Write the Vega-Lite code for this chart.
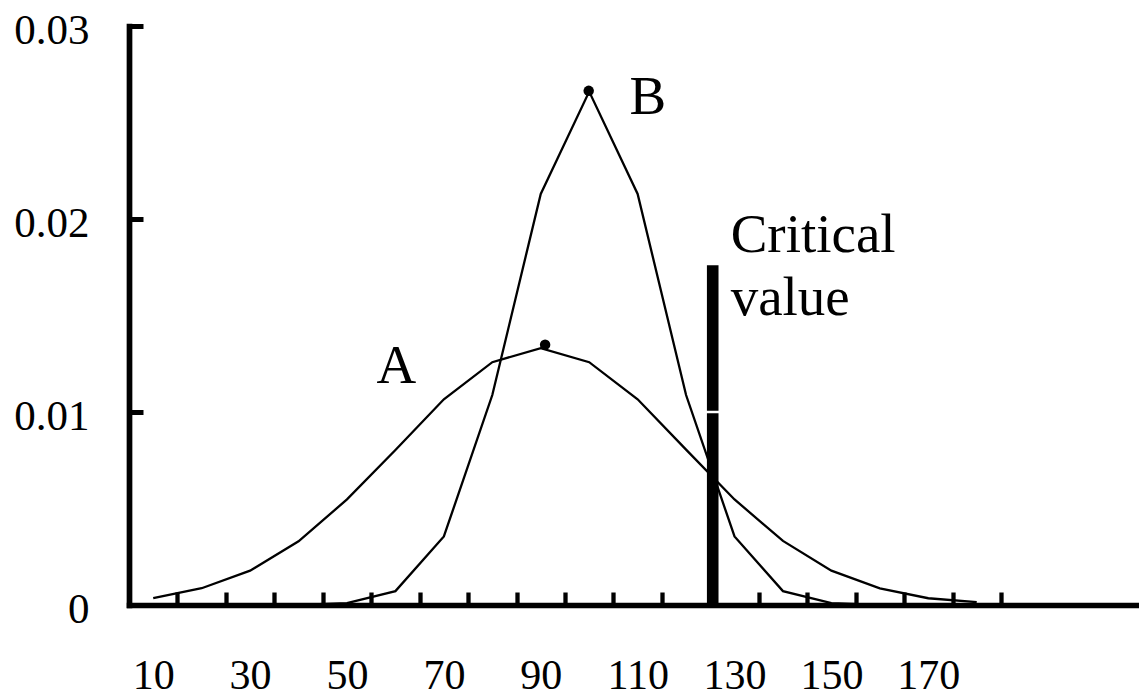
{
  "$schema": "https://vega.github.io/schema/vega-lite/v6.json",
  "autosize": "none",
  "width": 1010,
  "height": 579,
  "padding": {"left": 129, "top": 26, "right": 0, "bottom": 92},
  "background": "white",
  "config": {"view": {"stroke": null}, "font": "Liberation Serif"},
  "datasets": {
    "curves": [
      {"series": "A", "x": 10, "density": 0.00035},
      {"series": "A", "x": 20, "density": 0.00087},
      {"series": "A", "x": 30, "density": 0.00178},
      {"series": "A", "x": 40, "density": 0.0033},
      {"series": "A", "x": 50, "density": 0.00547},
      {"series": "A", "x": 60, "density": 0.00803},
      {"series": "A", "x": 70, "density": 0.01066},
      {"series": "A", "x": 80, "density": 0.01258},
      {"series": "A", "x": 90, "density": 0.01331},
      {"series": "A", "x": 100, "density": 0.01258},
      {"series": "A", "x": 110, "density": 0.01066},
      {"series": "A", "x": 120, "density": 0.00805},
      {"series": "A", "x": 130, "density": 0.00547},
      {"series": "A", "x": 140, "density": 0.00332},
      {"series": "A", "x": 150, "density": 0.00178},
      {"series": "A", "x": 160, "density": 0.00086},
      {"series": "A", "x": 170, "density": 0.00035},
      {"series": "A", "x": 180, "density": 0.00015},
      {"series": "B", "x": 10, "density": 0},
      {"series": "B", "x": 20, "density": 0},
      {"series": "B", "x": 30, "density": 0},
      {"series": "B", "x": 40, "density": 0.00001},
      {"series": "B", "x": 50, "density": 0.0001},
      {"series": "B", "x": 60, "density": 0.00072},
      {"series": "B", "x": 70, "density": 0.00355},
      {"series": "B", "x": 80, "density": 0.01088},
      {"series": "B", "x": 90, "density": 0.0213},
      {"series": "B", "x": 100, "density": 0.0266},
      {"series": "B", "x": 110, "density": 0.0213},
      {"series": "B", "x": 120, "density": 0.01088},
      {"series": "B", "x": 130, "density": 0.00355},
      {"series": "B", "x": 140, "density": 0.00072},
      {"series": "B", "x": 150, "density": 0.0001},
      {"series": "B", "x": 160, "density": 0.00001},
      {"series": "B", "x": 170, "density": 0},
      {"series": "B", "x": 180, "density": 0}
    ],
    "critical": [
      {"x": 125.5, "y": 0, "y2": 0.00994},
      {"x": 125.5, "y": 0.01006, "y2": 0.0176}
    ],
    "peaks": [
      {"series": "A", "x": 90.9, "density": 0.01349},
      {"series": "B", "x": 99.9, "density": 0.02664}
    ],
    "labels": [
      {"label": "A", "x": 60.2, "y": 0.0115},
      {"label": "B", "x": 112.1, "y": 0.02543}
    ],
    "critlabel": [
      {"x": 129.2, "y": 0.01829}
    ]
  },
  "layer": [
    {
      "data": {"name": "curves"},
      "mark": {"type": "line", "color": "black", "strokeWidth": 2.3},
      "encoding": {
        "x": {
          "field": "x", "type": "quantitative",
          "scale": {"domain": [5, 213.5], "nice": false, "zero": false},
          "axis": {
            "title": null,
            "zindex": 1,
            "grid": false,
            "values": [15,25,35,45,55,65,75,85,95,105,115,125,135,145,155,165,175,185],
            "domainColor": "black",
            "domainWidth": 5.5,
            "domainCap": "square",
            "tickColor": "black",
            "tickWidth": 4.3,
            "tickSize": -13,
            "labelExpr": "(datum.value - 15) % 20 == 0 && datum.value <= 175 ? format(datum.value - 5, 'd') : ''",
            "labelOffset": -24.2,
            "labelFont": "Liberation Serif",
            "labelFontSize": 42,
            "labelColor": "black",
            "labelBaseline": "alphabetic",
            "labelAlign": "center",
            "labelPadding": 96,
            "labelOverlap": false,
            "labelBound": false,
            "labelFlush": false
          }
        },
        "y": {
          "field": "density", "type": "quantitative",
          "scale": {"domain": [0, 0.03], "nice": false},
          "axis": {
            "title": null,
            "zindex": 1,
            "grid": false,
            "values": [0, 0.01, 0.02, 0.03],
            "labelExpr": "datum.value == 0 ? '0' : format(datum.value, '.2f')",
            "domainColor": "black",
            "domainWidth": 5.7,
            "domainCap": "square",
            "tickColor": "black",
            "tickWidth": 5,
            "tickSize": -14,
            "labelFont": "Liberation Serif",
            "labelFontSize": 43,
            "labelColor": "black",
            "labelBaseline": "alphabetic",
            "labelOffset": 17,
            "labelPadding": 54,
            "labelOverlap": false,
            "labelBound": false,
            "labelFlush": false
          }
        },
        "detail": {"field": "series"}
      }
    },
    {
      "data": {"name": "critical"},
      "mark": {"type": "rule", "color": "black", "strokeWidth": 11.6},
      "encoding": {
        "x": {"field": "x", "type": "quantitative"},
        "y": {"field": "y", "type": "quantitative"},
        "y2": {"field": "y2"}
      }
    },
    {
      "data": {"name": "peaks"},
      "mark": {"type": "point", "filled": true, "color": "black", "size": 110, "opacity": 1},
      "encoding": {
        "x": {"field": "x", "type": "quantitative"},
        "y": {"field": "density", "type": "quantitative"}
      }
    },
    {
      "data": {"name": "labels"},
      "mark": {"type": "text", "font": "Liberation Serif", "fontSize": 55, "color": "black", "align": "center", "baseline": "alphabetic"},
      "encoding": {
        "x": {"field": "x", "type": "quantitative"},
        "y": {"field": "y", "type": "quantitative"},
        "text": {"field": "label"}
      }
    },
    {
      "data": {"name": "critlabel"},
      "mark": {"type": "text", "font": "Liberation Serif", "fontSize": 55, "color": "black", "align": "left", "baseline": "alphabetic", "lineHeight": 63, "text": ["Critical", "value"]},
      "encoding": {
        "x": {"field": "x", "type": "quantitative"},
        "y": {"field": "y", "type": "quantitative"}
      }
    }
  ]
}
